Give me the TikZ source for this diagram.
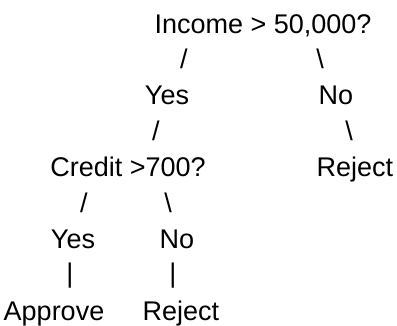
\documentclass[tikz,border=0pt]{standalone}
\usepackage{fontspec}
\setmainfont{Liberation Sans}
\tikzset{
  word/.style={anchor=base,inner sep=0pt,font=\fontsize{27}{31}\selectfont},
  glyph/.style={word}
}
\begin{document}
\begin{tikzpicture}[x=1pt,y=-1pt]
\useasboundingbox (0,0) rectangle (397,326);
% root question
\node[word] (income) at (263,34) {Income > 50,000?};
\node[glyph] (incYesBr) at (184,69) {/};
\node[glyph] (incNoBr) at (320,69) {\textbackslash};
\node[word] (incYes) at (167,105) {Yes};
\node[word] (incNo) at (336,105) {No};
\node[glyph] (yesBr) at (156,141) {/};
\node[glyph] (noBr) at (349,141) {\textbackslash};
% second level
\node[word] (credit) at (128,177) {Credit >700?};
\node[word] (rejectA) at (355,177) {Reject};
\node[glyph] (crYesBr) at (84,213) {/};
\node[glyph] (crNoBr) at (168,213) {\textbackslash};
\node[word] (crYes) at (73,249) {Yes};
\node[word] (crNo) at (177,249) {No};
\node[glyph] (approveBr) at (70,283) {|};
\node[glyph] (rejectBr) at (173,283) {|};
\node[word] (approve) at (54,321) {Approve};
\node[word] (rejectB) at (181,321) {Reject};
\end{tikzpicture}
\end{document}
